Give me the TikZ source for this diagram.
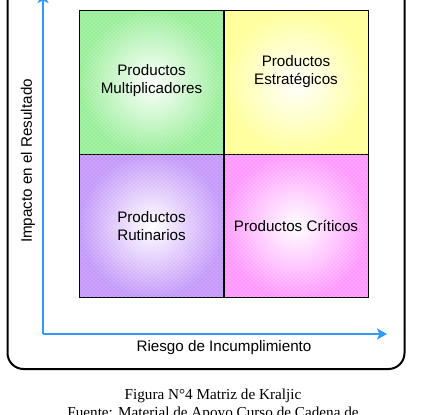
\documentclass[tikz,border=0pt]{standalone}
\usepackage{fontspec}
\setmainfont{Liberation Serif}
\newfontfamily\arial{Liberation Sans}
\usetikzlibrary{arrows.meta,patterns}
\definecolor{axisblue}{HTML}{3399FF}
\definecolor{cgreen}{HTML}{99EE99}
\definecolor{cyellow}{HTML}{FFFF99}
\definecolor{cpurple}{HTML}{C499FA}
\definecolor{cpink}{HTML}{FF99FF}
\pgfdeclarepatternformonly{wdots}{\pgfqpoint{-1pt}{-1pt}}{\pgfqpoint{3pt}{3pt}}{\pgfqpoint{4pt}{4pt}}{%
  \pgfpathcircle{\pgfqpoint{0pt}{0pt}}{0.5pt}%
  \pgfpathcircle{\pgfqpoint{2pt}{2pt}}{0.5pt}%
  \pgfusepath{fill}}
\tikzset{
  cell/.style={draw=black, line width=0.9pt, minimum width=144pt, minimum height=143.5pt,
    inner sep=0pt, shading=radial, inner color=white},
  dotsover/.style={pattern=wdots, pattern color=white, draw=none, minimum width=143pt,
    minimum height=142.5pt, inner sep=0pt, fill opacity=0.8},
  lbl/.style={font=\arial\fontsize{15.2}{18}\selectfont, align=center, inner sep=0pt},
  axis/.style={draw=axisblue, line width=2.6pt, -{Stealth[length=10pt,width=11pt,inset=2.5pt]}},
  frame/.style={draw=black, line width=2pt, rounded corners=16pt},
  captext/.style={font=\fontsize{15.2}{18}\selectfont, inner sep=0pt, anchor=base}
}
\begin{document}
\begin{tikzpicture}[x=1pt,y=-1pt]
\useasboundingbox (0,0) rectangle (421,415);
\fill[white] (0,0) rectangle (421,415);
% frame
\draw[frame] (7.5,-40) rectangle (404.5,369);
% cells
\node[cell, outer color=cgreen]  (mult) at (151.5,82.25) {};
\node[cell, outer color=cyellow] (estr) at (296,82.25) {};
\node[cell, outer color=cpurple] (rut)  at (151.5,225.75) {};
\node[cell, outer color=cpink]   (crit) at (296,225.75) {};
\foreach \c in {mult,estr,rut,crit}{\node[dotsover] at (\c) {};}
% labels in cells
\node[lbl] (tmult) at (151.5,81) {Productos\\Multiplicadores};
\node[lbl] (testr) at (296,72) {Productos\\Estratégicos};
\node[lbl] (trut)  at (151.5,226) {Productos\\Rutinarios};
\node[lbl] (tcrit) at (296,226) {Productos Críticos};
% axes
\coordinate (o) at (43,334);
\coordinate (ytip) at (43,-7);
\coordinate (xtip) at (387,334);
\draw[axis] (o) -- (ytip);
\draw[axis] (o) -- (xtip);
\node[lbl, rotate=90] (ylab) at (28,161) {Impacto en el Resultado};
\node[lbl] (xlab) at (224,348) {Riesgo de Incumplimiento};
% caption
\node[captext] (cap1) at (213,399) {Figura N°4 Matriz de Kraljic};
\node[captext] (cap2) at (213,417) {Fuente: Material de Apoyo Curso de Cadena de};
\end{tikzpicture}
\end{document}
